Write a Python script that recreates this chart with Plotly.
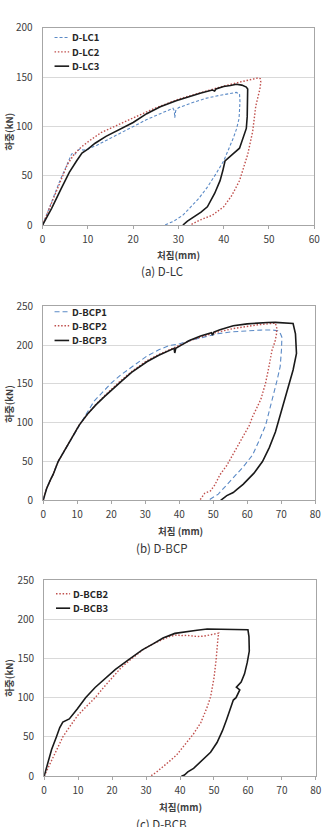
import plotly.graph_objects as go

W, H = 328, 827
FONT = "Noto Sans CJK KR"
BLUE = "#5B8AC6"
RED = "#C0504D"
BLACK = "#1A1A1A"

# ---------------- (a) D-LC ----------------
lc1_x = [0, 2, 4, 5.1, 6.4, 6.8, 7.2, 7.6, 8.2, 9, 10, 12, 15, 18, 20, 23, 26, 28.8, 29.1, 29.2, 29.4, 30, 33, 36, 39, 41,
         42.8, 43.5, 43.6, 43.4, 42.8, 42.1, 41, 40, 38.3, 36.4, 34.5, 32.8, 31, 29, 27]
lc1_y = [0, 24, 47, 58, 72, 73, 72, 75, 77, 76, 77, 81, 88, 95, 100, 107, 113, 118.5, 116, 109, 116, 119, 124, 128.5, 131.5, 133,
         134.6, 133, 125, 108, 97, 88, 76, 65, 52, 38.4, 27, 18.5, 10, 4, 0]
lc2_x = [0, 2, 4, 5.5, 7, 8.5, 10.2, 13, 17.3, 20, 24.5, 30.2, 35, 40, 44, 46.5, 47.6, 48.1, 48.2, 48, 47.5, 47.1, 46.4, 45.3,
         43.5, 41.8, 40, 37.5, 34.9, 33.5, 32.6]
lc2_y = [0, 23, 45, 61.7, 72, 79, 85, 94, 103, 108.5, 118, 128, 134.5, 141, 145.5, 148, 149.3, 148.5, 145, 138, 128, 121, 94.8,
         71.6, 45, 30, 18.5, 10, 5.3, 2, 0]
lc3_x = [0, 2, 4, 5.9, 7.5, 8.7, 10, 11.6, 14, 17.3, 20, 23, 26, 29.5, 32, 35, 37.5, 38, 38.3, 40, 41.5, 42.8, 44, 45, 45.3,
         45.3, 45.2, 45, 44.3, 43.5, 42, 40.3, 39.8, 39.2, 38, 36.4, 35, 33.5, 32, 31]
lc3_y = [0, 17, 36, 53.4, 65, 73, 77, 83, 90, 98, 104, 113, 120, 126, 130, 134, 137, 136, 138, 140.5, 141.5, 142.9, 142, 140,
         138, 125, 110, 98, 88, 78, 72, 65, 55, 45, 32, 18.5, 13, 8.6, 4, 0]

# ---------------- (b) D-BCP ----------------
bcp1_x = [0, 0.5, 1, 2, 3, 4.4, 6, 8, 10.5, 12.5, 15, 18.1, 20, 22.9, 26, 30.5, 34, 37.2, 40, 41.6, 45, 51.1, 55, 60.6, 64,
          67.3, 69.2, 69.8, 70.2, 70.1, 69.7, 68.8, 67.8, 66.6, 65.4, 63.6, 61.6, 58.8, 55.9, 53.5, 51.5, 49.2, 48.7]
bcp1_y = [0, 8, 15, 25, 34, 50, 62, 78, 96, 110, 128, 143, 151, 161.9, 172, 186, 194, 199.8, 201.5, 204, 208, 214.6, 217,
          218.8, 219.5, 219.7, 218.5, 214.6, 210.3, 195, 172.4, 155, 138.7, 117, 96.5, 78, 58.5, 43, 29, 18, 8, 1.6, 0]
bcp2_x = [0, 0.5, 1, 2, 3, 4.4, 6, 8, 10.6, 13, 15.5, 18.1, 20.5, 22.9, 26, 30.5, 34, 37.2, 40, 43, 46.3, 50, 55.9, 60, 63.5,
          66, 68.3, 68.7, 68.6, 68.2, 67.3, 66.3, 65.4, 64, 62.6, 61.6, 60.6, 58.5, 55.9, 54, 52, 50.5, 49.2, 47.5, 46.3, 45.9]
bcp2_y = [0, 8, 15, 25, 34, 50, 62, 78, 97, 111, 123.5, 135, 145, 154.5, 166, 180, 188, 194.5, 200, 205.5, 210.5, 215.5,
          221.5, 224.5, 226.5, 227.5, 228.5, 222, 214, 205, 193.5, 170, 151, 130, 117.6, 108, 96.5, 80, 58.5, 45, 33, 20,
          12.2, 9, 1.6, 0]
bcp3_x = [0, 0.5, 1, 2, 3, 4.4, 6, 8, 10.6, 13, 15.5, 18.1, 20.5, 22.9, 26, 30.5, 34, 37.2, 38.5, 38.7, 39, 40.5, 43, 46.3,
          49.5, 49.8, 50.2, 52, 55.9, 60, 63.5, 66, 68.3, 71, 73.5, 74.2, 74.5, 74.5, 73.5, 72.1, 70.3, 68.3, 66.5, 64.5, 62,
          58.8, 57, 55.9, 54, 53, 52.5, 52.2]
bcp3_y = [0, 8, 15, 25, 34, 50, 62, 78, 97, 111, 123, 134, 144, 153, 165, 178.7, 187, 193.5, 196, 190, 196, 199.8, 206, 212,
          216, 213, 217, 220, 225, 227.5, 229, 229.3, 229.5, 229, 228, 214.6, 200, 189.3, 168, 147, 118, 88, 68, 50, 35,
          20.6, 14, 10, 6, 3, 1.6, 0]

# ---------------- (c) D-BCB ----------------
bcb2_x = [0, 1, 2.5, 4, 5.5, 8, 10, 12.7, 15, 17.9, 20, 22.6, 25, 26.5, 29.3, 32.7, 36.9, 39.4, 40, 42, 45.2, 47, 49, 51.4,
          51.2, 50.9, 50.6, 50, 49, 48, 46.1, 44, 41.3, 39, 36.6, 34.7, 33, 31.3]
bcb2_y = [0, 9, 22, 36, 50, 66, 78, 90, 100, 115, 125, 138, 147, 152, 162, 170, 178, 180.5, 179, 179.5, 178, 178.5, 180,
          182.3, 177, 160, 147, 125, 101, 88, 68, 54, 38.7, 27, 17.9, 11, 5, 0]
bcb3_x = [0, 1, 2.2, 3.6, 4.6, 5.5, 6.5, 7.4, 9.8, 12.2, 15, 17.9, 21, 25, 28.9, 32.2, 35, 38.5, 42, 45, 48, 52, 56, 60,
          60.3, 60.4, 59.8, 59, 58, 57.2, 56.6, 57.6, 56.5, 55.7, 54.8, 53.7, 52.5, 50.9, 49, 47.5, 46.1, 44, 42.3, 41.3, 40.4]
bcb3_y = [0, 15, 34, 50, 62, 69, 71, 73, 86, 100, 113, 124, 136, 149, 161, 169, 176, 182, 184.5, 186, 187.5, 187, 186.5,
          186.6, 178, 159.5, 145, 130.4, 120, 116, 113.5, 110, 100, 97, 85, 72, 58, 42.9, 30.4, 24, 17.9, 10, 5.4, 1.5, 0]

x_ticks_a = [0, 10, 20, 30, 40, 50, 60]
y_ticks_a = [0, 50, 100, 150, 200]
x_ticks_b = [0, 10, 20, 30, 40, 50, 60, 70, 80]
y_ticks_b = [0, 50, 100, 150, 200, 250]

# plot-area pixel boxes (left, right, top, bottom)
boxes = [(40.7, 320.0, 19.3, 220.3), (41.3, 321.0, 303.3, 501.0), (42.3, 321.7, 582.3, 782.3)]


def px(x):
    return x / W


def py(y):
    return 1 - y / H


fig = go.Figure()

blue_a = dict(color=BLUE, width=1.1, dash="3px,2px")
blue_b = dict(color=BLUE, width=1.1, dash="5px,3px")
red = dict(color=RED, width=1.4, dash="1.5px,1.8px")
black = dict(color=BLACK, width=1.6)

series = [
    (1, "D-LC1", lc1_x, lc1_y, blue_a),
    (1, "D-LC2", lc2_x, lc2_y, red),
    (1, "D-LC3", lc3_x, lc3_y, black),
    (2, "D-BCP1", bcp1_x, bcp1_y, blue_b),
    (2, "D-BCP2", bcp2_x, bcp2_y, red),
    (2, "D-BCP3", bcp3_x, bcp3_y, black),
    (3, "D-BCB2", bcb2_x, bcb2_y, red),
    (3, "D-BCB3", bcb3_x, bcb3_y, black),
]

for k, name, xs, ys, ln in series:
    sfx = "" if k == 1 else str(k)
    fig.add_trace(go.Scatter(x=xs, y=ys, mode="lines", name=name, line=ln,
                             xaxis="x" + sfx, yaxis="y" + sfx, showlegend=False))

axis_common = dict(showline=True, mirror=True, linecolor="#A6A6A6", linewidth=1,
                   zeroline=False, tickfont=dict(family=FONT, size=10, color="#404040"),
                   fixedrange=True)

layout = dict(width=W, height=H, autosize=False, margin=dict(l=0, r=0, t=0, b=0),
              paper_bgcolor="white", plot_bgcolor="white", showlegend=False,
              font=dict(family=FONT))

ranges = [((0, 60), (0, 200), x_ticks_a, y_ticks_a),
          ((0, 80), (0, 250), x_ticks_b, y_ticks_b),
          ((0, 80), (0, 250), x_ticks_b, y_ticks_b)]

for i, (box, (xr, yr, xt, yt)) in enumerate(zip(boxes, ranges)):
    l, r, t, b = box
    sfx = "" if i == 0 else str(i + 1)
    layout["xaxis" + sfx] = dict(axis_common, domain=[px(l), px(r)], range=list(xr), tickvals=xt,
                                 showgrid=False, ticks="outside", ticklen=3, tickcolor="#A6A6A6",
                                 anchor="y" + sfx, ticklabelstandoff=2)
    layout["yaxis" + sfx] = dict(axis_common, domain=[py(b), py(t)], range=list(yr), tickvals=yt,
                                 showgrid=True, gridcolor="#D9D9D9", gridwidth=1, ticks="",
                                 anchor="x" + sfx, ticklabelstandoff=7)

fig.update_layout(**layout)

ann = []
shapes = []
# axis titles and captions
ytitle_y = [125, 402.7, 682]
xtitle = [("처짐(mm)", 180, 250.7), ("처짐 (mm)", 182, 532.3), ("처짐(mm)", 182.7, 813.3)]
captions = [("(a) D-LC", 163.3, 267), ("(b) D-BCP", 163, 550), ("(c) D-BCB", 163, 831)]
for i in range(3):
    ann.append(dict(text="<b>하중(kN)</b>", x=px(6), y=py(ytitle_y[i]), xref="paper", yref="paper",
                    textangle=-90, showarrow=False, xanchor="center", yanchor="middle",
                    font=dict(family=FONT, size=9.5, color="#404040")))
    t, cx, cy = xtitle[i]
    ann.append(dict(text="<b>" + t + "</b>", x=px(cx), y=py(cy), xref="paper", yref="paper",
                    showarrow=False, xanchor="center", yanchor="middle",
                    font=dict(family=FONT, size=9.5, color="#404040")))
    t, cx, cy = captions[i]
    ann.append(dict(text=t, x=px(cx), y=py(cy), xref="paper", yref="paper",
                    showarrow=False, xanchor="center", yanchor="middle",
                    font=dict(family=FONT, size=11.5, color="#333333")))

# legends (drawn inside each panel, top-left)
legend_rows = {1: (53, 68, [29, 43.7, 58.3]), 2: (53, 68, [308.7, 323, 338]), 3: (54.5, 69, [596.3, 611])}
for k in (1, 2, 3):
    x0, x1, rows = legend_rows[k]
    items = [s for s in series if s[0] == k]
    for (kk, name, xs, ys, ln), ry in zip(items, rows):
        shapes.append(dict(type="line", xref="paper", yref="paper", x0=px(x0), x1=px(x1), y0=py(ry), y1=py(ry),
                           line=dict(color=ln["color"], width=ln["width"], dash=ln.get("dash", "solid"))))
        ann.append(dict(text="<b>" + name + "</b>", x=px(x1 + 1), y=py(ry), xref="paper", yref="paper",
                        showarrow=False, xanchor="left", yanchor="middle",
                        font=dict(family=FONT, size=9.5, color="#262626")))

fig.update_layout(annotations=ann, shapes=shapes)
fig.write_html("out.html")
